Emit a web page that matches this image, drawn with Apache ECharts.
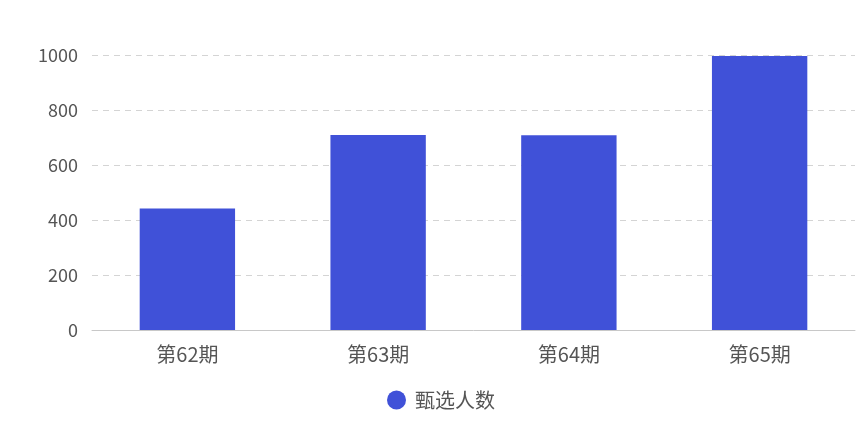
<!DOCTYPE html>
<html><head><meta charset="utf-8">
<script src="https://cdn.jsdelivr.net/npm/echarts@6/dist/echarts.min.js"></script>
<style>html,body{margin:0;padding:0;background:#fff}#c{width:868px;height:438px}</style>
</head><body><div id="c"></div>
<script>
const categories = ['第62期', '第63期', '第64期', '第65期'];
const seriesName = '甄选人数';
const values = [442, 709, 708, 996];
const yTicks = { min: 0, max: 1000, interval: 200 };

const font = "'Noto Sans CJK SC', 'Noto Sans', sans-serif";
const chart = echarts.init(document.getElementById('c'));
chart.setOption({
  animation: false,
  textStyle: { fontFamily: font },
  grid: { left: 92, right: 13, top: 55, bottom: 108 },
  legend: {
    top: 385, left: 382,
    icon: 'circle', itemWidth: 19, itemHeight: 19, itemGap: 10,
    textStyle: { fontSize: 20, color: '#555', fontFamily: font, padding: [0, 0, 0, 4] },
    data: [seriesName]
  },
  xAxis: {
    type: 'category', data: categories,
    axisLine: { lineStyle: { color: '#c8c8c8' } },
    axisTick: { alignWithLabel: true, length: 5, lineStyle: { color: '#c8c8c8' } },
    axisLabel: { fontSize: 20, color: '#555', margin: 14, fontFamily: font }
  },
  yAxis: {
    type: 'value', min: yTicks.min, max: yTicks.max, interval: yTicks.interval,
    axisLine: { show: false }, axisTick: { show: false },
    axisLabel: { fontSize: 18, color: '#555', margin: 14, fontFamily: font, formatter: v => String(v) },
    splitLine: { lineStyle: { color: '#d4d4d4', type: [6, 5] } }
  },
  series: [{
    name: seriesName, type: 'bar', data: values, barWidth: '50%',
    itemStyle: { color: '#4051D8' }
  }]
});
</script></body></html>
